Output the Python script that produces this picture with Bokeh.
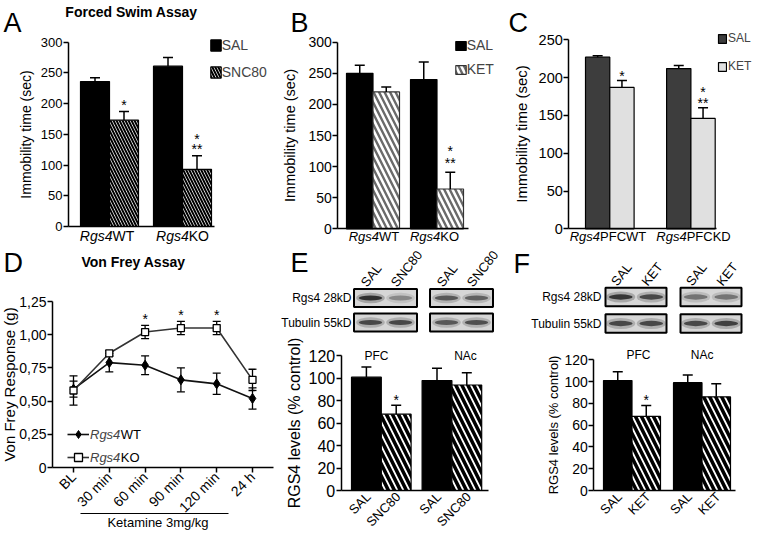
from math import pi
from bokeh.plotting import figure
from bokeh.models import (Range1d, ColumnDataSource, Whisker, TeeHead, Label, LabelSet, Legend,
                          LegendItem, FixedTicker, Arrow)
from bokeh.layouts import row, column
from bokeh.embed import file_html
from bokeh.resources import INLINE
from bokeh.core.properties import value

FONT = "Liberation Sans"

# ---------------- data ----------------
# A  Forced swim assay (SNC80)
A_GENO = ["WT", "KO"]
A_TREAT = ["SAL", "SNC80"]
A_SAL = [236, 261]
A_SAL_TOP = [242, 275]
A_DRUG = [173, 93]
A_DRUG_TOP = [187, 115]
A_STAR_LO = ["*", "**"]
A_STAR_HI = ["", "*"]
A_YTICKS = [0, 50, 100, 150, 200, 250, 300]

# B  Forced swim (ketamine)
B_GENO = ["WT", "KO"]
B_TREAT = ["SAL", "KET"]
B_SAL = [250, 240]
B_SAL_TOP = [263, 268]
B_DRUG = [220, 64]
B_DRUG_TOP = [228, 91]
B_STAR_LO = ["", "**"]
B_STAR_HI = ["", "*"]

# C  PFC knock-down
C_GENO = ["PFCWT", "PFCKD"]
C_TREAT = ["SAL", "KET"]
C_SAL = [227, 212]
C_SAL_TOP = [229, 216]
C_DRUG = [187, 146]
C_DRUG_TOP = [196, 160]
C_STAR_LO = ["*", "**"]
C_STAR_HI = ["", "*"]
C_YTICKS = [0, 50, 100, 150, 200, 250]

# D  Von Frey assay
D_TIMES = ["BL", "30 min", "60 min", "90 min", "120 min", "24 h"]
D_WT = [0.59, 0.79, 0.77, 0.66, 0.63, 0.52]
D_WT_SEM = [0.06, 0.07, 0.07, 0.09, 0.08, 0.08]
D_KO = [0.58, 0.86, 1.02, 1.05, 1.05, 0.66]
D_KO_SEM = [0.11, 0.02, 0.05, 0.05, 0.05, 0.08]
D_STARS = ["", "", "*", "*", "*", ""]
D_YTICKS = [0, 0.25, 0.5, 0.75, 1.0, 1.25]
D_YLABELS = ["0", "0,25", "0,50", "0,75", "1,00", "1,25"]

# E  RGS4 levels after SNC80
E_TISSUE = ["PFC", "NAc"]
E_TREAT = ["SAL", "SNC80"]
E_SAL = [101, 98]
E_SAL_TOP = [110, 109]
E_DRUG = [68, 94]
E_DRUG_TOP = [76, 105]
E_STARS = ["*", ""]
BLOT_ROWS = ["Rgs4 28kD", "Tubulin 55kD"]
E_RGS4_BAND = [0.85, 0.35, 0.6, 0.55]
E_TUB_BAND = [0.7, 0.7, 0.6, 0.65]
EF_YTICKS = [0, 20, 40, 60, 80, 100, 120]

# F  RGS4 levels after ketamine
F_TISSUE = ["PFC", "NAc"]
F_TREAT = ["SAL", "KET"]
F_SAL = [101, 99]
F_SAL_TOP = [109, 106]
F_DRUG = [68, 86]
F_DRUG_TOP = [78, 98]
F_STARS = ["*", ""]
F_RGS4_BAND = [0.8, 0.7, 0.45, 0.45]
F_TUB_BAND = [0.7, 0.7, 0.7, 0.75]

# ---------------- helpers ----------------
_CW = {' ': 278, '(': 333, ')': 333, '*': 389, ',': 278, '%': 889, '/': 278,
       'A': 667, 'B': 667, 'C': 722, 'D': 722, 'E': 667, 'F': 611, 'G': 778, 'K': 667,
       'L': 556, 'N': 722, 'O': 778, 'P': 667, 'R': 722, 'S': 667, 'T': 611, 'W': 944,
       'a': 556, 'b': 556, 'c': 500, 'e': 556, 'g': 556, 'h': 556, 'i': 222, 'k': 500,
       'l': 222, 'm': 833, 'n': 556, 'o': 556, 'r': 333, 's': 500, 't': 278, 'u': 556,
       'v': 500, 'y': 500}


def tw(s, size):
    return sum(_CW.get(ch, 556) for ch in s) * size / 1000.0


def lin_range(px0, px1, da, pa, db, pb):
    """Range whose data value da sits at pixel pa and db at pb, frame spanning px0..px1."""
    s = (pb - pa) / (db - da)
    return Range1d(da + (px0 - pa) / s, da + (px1 - pa) / s)


class Fig:
    def __init__(self, ox, oy, w, h, xr, yr):
        self.ox, self.oy, self.w, self.h = ox, oy, w, h
        p = figure(width=w, height=h, x_range=xr, y_range=yr, output_backend="svg",
                   toolbar_location=None, min_border=0, min_border_left=0, min_border_right=0,
                   min_border_top=0, min_border_bottom=0)
        p.title.visible = False
        p.outline_line_color = None
        p.grid.visible = False
        p.background_fill_color = "white"
        p.border_fill_color = "white"
        self.p = p

    def put(self, rx, by, text, size, align="left", style="normal", angle=0.0, mid=False):
        # by is the text baseline (converted to a middle anchor) unless mid=True
        cy = by if mid else by - 0.26 * size
        self.p.add_layout(Label(x=rx - self.ox, y=self.oy + self.h - cy, x_units="screen",
                                y_units="screen", text=text, text_font=FONT,
                                text_font_size=f"{size}px", text_font_style=style,
                                text_align=align, text_baseline="middle", angle=angle,
                                text_color="black"))

    def pair(self, cx, by, prefix, suffix, size):
        wp, ws = tw(prefix, size), tw(suffix, size)
        x0 = cx - (wp + ws) / 2
        self.put(x0, by, prefix, size, style="italic")
        self.put(x0 + wp, by, suffix, size)

    def legend(self, items, rx, ry_top, gw, gh, pitch, size, standoff, style="normal"):
        n = len(items)
        spacing = round(pitch - gh)
        height = n * gh + (n - 1) * spacing
        leg = Legend(items=[LegendItem(label=l, renderers=r) for l, r in items],
                     location=(rx - self.ox, self.oy + self.h - (ry_top + height)),
                     orientation="vertical", padding=0, margin=0, spacing=spacing,
                     glyph_width=gw, glyph_height=gh, label_height=gh, label_width=5,
                     label_standoff=standoff, label_text_font=FONT,
                     label_text_font_size=f"{size}px", label_text_font_style=style,
                     label_text_baseline="middle", border_line_color=None,
                     background_fill_alpha=0)
        self.p.add_layout(leg)


def axis_style(ax, tsize):
    ax.axis_line_color = "black"
    ax.axis_line_width = 1.5
    ax.major_tick_line_color = "black"
    ax.major_tick_line_width = 1.5
    ax.major_tick_out = 5
    ax.major_tick_in = 0
    ax.minor_tick_line_color = None
    ax.major_label_text_font = FONT
    ax.major_label_text_font_size = f"{tsize}px"
    ax.major_label_text_color = "black"
    ax.major_label_standoff = 1


def y_axis(p, at, top, ticks, label, tsize, lsize, lstand, overrides=None):
    ax = p.yaxis[0]
    ax.fixed_location = at
    ax.bounds = (0, top)
    ax.ticker = FixedTicker(ticks=ticks)
    if overrides:
        ax.major_label_overrides = overrides
    ax.axis_label = label
    ax.axis_label_text_font = FONT
    ax.axis_label_text_font_style = "normal"
    ax.axis_label_text_font_size = f"{lsize}px"
    ax.axis_label_text_color = "black"
    ax.axis_label_standoff = lstand
    axis_style(ax, tsize)


def x_axis(p, start, end, tsize=14, ticks=()):
    ax = p.xaxis[0]
    ax.fixed_location = 0
    ax.bounds = (start, end)
    ax.ticker = FixedTicker(ticks=list(ticks))
    axis_style(ax, tsize)
    return ax


def stars(p, xs, ys, texts, off, size=14):
    src = ColumnDataSource(dict(x=xs, y=ys, t=texts))
    p.add_layout(LabelSet(x="x", y="y", text="t", source=src, y_offset=off, text_align="center",
                          text_baseline="middle", text_font=value(FONT),
                          text_font_size=value(f"{size}px"), text_color="black"))


def bar_panel(ox, oy, w, h, groups, treats, sal, sal_top, drug, drug_top, ymax,
              axis_px, bar0, unit, gap, xend_px, y_zero, y_top, sal_style, drug_style, head=10):
    xr = lin_range(ox, ox + w, 0, bar0, 1, bar0 + unit)
    yr = lin_range(-(oy + h), -oy, 0, -y_zero, ymax, -y_top)
    f = Fig(ox, oy, w, h, xr, yr)
    p = f.p
    step = len(treats) + gap / unit
    xs = [[gi * step + ti + 0.5 for gi in range(len(groups))] for ti in range(len(treats))]
    s1 = ColumnDataSource(dict(x=xs[0], top=sal, err=sal_top))
    s2 = ColumnDataSource(dict(x=xs[1], top=drug, err=drug_top))
    r1 = p.vbar(x="x", top="top", width=1.0, source=s1, **sal_style)
    r2 = p.vbar(x="x", top="top", width=1.0, source=s2, **drug_style)
    for s in (s1, s2):
        p.add_layout(Whisker(base="x", lower="top", upper="err", source=s, line_color="black",
                             line_width=1.5, level="annotation", lower_head=None,
                             upper_head=TeeHead(size=head, line_color="black", line_width=1.5)))
    ax_at = (axis_px - bar0) / unit
    x_axis(p, ax_at, (xend_px - bar0) / unit)
    f.ax_at = ax_at
    f.xs = xs
    return f, r1, r2


def blot_panel(ox, oy, w, h, tissues, lanes, rgs4, tub, lane0, unit, gap, row_px,
               box_w, box_h, lab_size):
    xr = lin_range(ox, ox + w, 0, lane0, 1, lane0 + unit)
    yr = lin_range(-(oy + h), -oy, 0, -row_px[1], 1, -row_px[0])
    f = Fig(ox, oy, w, h, xr, yr)
    p = f.p
    p.axis.visible = False
    step = len(lanes) + gap / unit
    bx = [ti * step + len(lanes) / 2 for ti in range(len(tissues))]
    box = ColumnDataSource(dict(x=bx * 2, y=[1] * len(bx) + [0] * len(bx)))
    p.rect("x", "y", width=box_w / unit, height=box_h / (row_px[1] - row_px[0]), source=box,
           fill_color="#d6d6d6", line_color="black", line_width=2)
    lane_x = [ti * step + li + 0.5 for ti in range(len(tissues)) for li in range(len(lanes))]
    inten = rgs4 + tub
    bands = ColumnDataSource(dict(x=lane_x * 2, y=[1] * len(lane_x) + [0] * len(lane_x),
                                  a=inten, a2=[v * 0.35 for v in inten]))
    p.ellipse("x", "y", width=0.95, height=0.42, source=bands, fill_color="#303030",
              fill_alpha="a2", line_color=None)
    p.ellipse("x", "y", width=0.78, height=0.2, source=bands, fill_color="#1c1c1c",
              fill_alpha="a", line_color=None)
    lab = ColumnDataSource(dict(x=lane_x, y=[1] * len(lane_x),
                                t=[l for t in tissues for l in lanes]))
    p.add_layout(LabelSet(x="x", y="y", text="t", source=lab, angle=0.9, x_offset=-7,
                          y_offset=13, text_align="left", text_baseline="middle",
                          text_font=value(FONT), text_font_size=value(f"{lab_size}px"),
                          text_color="black"))
    return f


def xlabels(f, tissues, treats, size):
    src = ColumnDataSource(dict(x=[x for gi in range(len(tissues)) for x in (f.xs[0][gi], f.xs[1][gi])],
                                y=[0] * (2 * len(tissues)),
                                t=[tr for t in tissues for tr in treats]))
    f.p.add_layout(LabelSet(x="x", y="y", text="t", source=src, angle=pi / 4, x_offset=2,
                            y_offset=-4, text_align="right", text_baseline="middle",
                            text_font=value(FONT), text_font_size=value(f"{size}px"),
                            text_color="black"))


BLACK = dict(fill_color="black", line_color="black", line_width=1.2)


def hatch(color, weight, scale, line="black"):
    return dict(fill_color="white", line_color=line, line_width=1.2,
                hatch_pattern="left_diagonal_line", hatch_color=color,
                hatch_weight=weight, hatch_scale=scale)


TOP_H = 246
BOT_Y = 246
BLOT_H = 91

# ---------------- panel A ----------------
fA, rA1, rA2 = bar_panel(0, 0, 280, TOP_H, A_GENO, A_TREAT, A_SAL, A_SAL_TOP, A_DRUG, A_DRUG_TOP,
                         300, 68, 80, 29, 15, 214, 226, 41.7, BLACK, hatch("black", 2, 6))
y_axis(fA.p, fA.ax_at, 300, A_YTICKS, "Immobility time (sec)", 13, 14, 4)
stars(fA.p, fA.xs[1], A_DRUG_TOP, A_STAR_LO, 7)
stars(fA.p, fA.xs[1], A_DRUG_TOP, A_STAR_HI, 17)
fA.legend([(A_TREAT[0], [rA1]), (A_TREAT[1], [rA2])], 208.7, 40.6, 13, 14, 25, 14, 0)
fA.put(3, 30, "A", 27)
fA.put(131, 15, "Forced Swim Assay", 14, align="center", style="bold")
fA.pair(106.5, 239, "Rgs4", A_GENO[0], 14)
fA.pair(182, 239, "Rgs4", A_GENO[1], 14)

# ---------------- panel B ----------------
fB, rB1, rB2 = bar_panel(280, 0, 225, TOP_H, B_GENO, B_TREAT, B_SAL, B_SAL_TOP, B_DRUG, B_DRUG_TOP,
                         300, 337.3, 346, 26.5, 11, 468, 228.3, 41.7, BLACK,
                         hatch("#6a6a6a", 2.4, 11, "#333333"))
y_axis(fB.p, fB.ax_at, 300, A_YTICKS, "Immobility time (sec)", 14, 14.5, 7)
stars(fB.p, fB.xs[1], B_DRUG_TOP, B_STAR_LO, 9)
stars(fB.p, fB.xs[1], B_DRUG_TOP, B_STAR_HI, 21)
fB.legend([(B_TREAT[0], [rB1]), (B_TREAT[1], [rB2])], 453.7, 47.2, 13, 11, 19, 14, 0)
fB.put(290, 30, "B", 27)
fB.pair(373.5, 239, "Rgs4", B_GENO[0], 13)
fB.pair(434, 239, "Rgs4", B_GENO[1], 13)

# ---------------- panel C ----------------
fC, rC1, rC2 = bar_panel(505, 0, 247, TOP_H, C_GENO, C_TREAT, C_SAL, C_SAL_TOP, C_DRUG, C_DRUG_TOP,
                         250, 568.3, 585, 24.3, 32.5, 716, 228.3, 39.3,
                         dict(fill_color="#3d3d3d", line_color="black", line_width=1.2),
                         dict(fill_color="#e0e0e0", line_color="black", line_width=1.2))
y_axis(fC.p, fC.ax_at, 250, C_YTICKS, "Immobility time (sec)", 14.5, 15, 5)
stars(fC.p, fC.xs[1], C_DRUG_TOP, C_STAR_LO, 5)
stars(fC.p, fC.xs[1], C_DRUG_TOP, C_STAR_HI, 16)
fC.legend([(C_TREAT[0], [rC1]), (C_TREAT[1], [rC2])], 717, 37.2, 10, 11, 25, 12, 1)
fC.put(508, 30, "C", 27)
fC.pair(607.5, 239, "Rgs4", C_GENO[0], 13)
fC.pair(693, 239, "Rgs4", C_GENO[1], 13)

# ---------------- panel D ----------------
D_OX, D_OY, D_W, D_H = 0, BOT_Y, 278, 531 - BOT_Y
fD = Fig(D_OX, D_OY, D_W, D_H, lin_range(D_OX, D_OX + D_W, 0, 73, 1, 108.8),
         lin_range(-(D_OY + D_H), -D_OY, 0, -467, 1.25, -301))
pD = fD.p
d_x = list(range(len(D_TIMES)))
d_axis_at = (52 - 73) / 35.8
y_axis(pD, d_axis_at, 1.25, D_YTICKS, None, 14, 15, 0, overrides=dict(zip(D_YTICKS, D_YLABELS)))
axD = x_axis(pD, d_axis_at, (273 - 73) / 35.8, 14, d_x)
axD.major_label_overrides = dict(zip(d_x, D_TIMES))
axD.major_label_orientation = pi / 4
axD.major_label_standoff = 2
sw = ColumnDataSource(dict(x=d_x, y=D_WT, lo=[m - e for m, e in zip(D_WT, D_WT_SEM)],
                           hi=[m + e for m, e in zip(D_WT, D_WT_SEM)]))
sk = ColumnDataSource(dict(x=d_x, y=D_KO, lo=[m - e for m, e in zip(D_KO, D_KO_SEM)],
                           hi=[m + e for m, e in zip(D_KO, D_KO_SEM)]))
for s in (sw, sk):
    pD.add_layout(Whisker(base="x", lower="lo", upper="hi", source=s, line_color="black",
                          line_width=1.3, level="underlay",
                          upper_head=TeeHead(size=8, line_color="black", line_width=1.3),
                          lower_head=TeeHead(size=8, line_color="black", line_width=1.3)))
lw = pD.line("x", "y", source=sw, line_color="#111111", line_width=1.6)
mw = pD.scatter("x", "y", source=sw, marker="diamond", size=10, fill_color="black", line_color="black")
lk = pD.line("x", "y", source=sk, line_color="#333333", line_width=1.6)
mk = pD.scatter("x", "y", source=sk, marker="square", size=7, fill_color="white",
                line_color="black", line_width=1.3)
stars(pD, d_x, [m + e for m, e in zip(D_KO, D_KO_SEM)], D_STARS, 6)
fD.legend([("Rgs4", [lw, mw]), ("Rgs4", [lk, mk])], 67, 424, 22, 20, 23, 13, 1, style="italic")
fD.put(90 + tw("Rgs4", 13), 434, "WT", 13, mid=True)
fD.put(90 + tw("Rgs4", 13), 457, "KO", 13, mid=True)
fD.put(3, 270, "D", 27)
fD.put(133, 265, "Von Frey Assay", 14, align="center", style="bold")
fD.put(9, 384, "Von Frey Response (g)", 15, align="center", angle=pi / 2, mid=True)
pD.add_layout(Arrow(x_start=80 - D_OX, y_start=D_OY + D_H - 513, x_end=228 - D_OX,
                    y_end=D_OY + D_H - 513, start_units="screen", end_units="screen",
                    start=None, end=None, line_color="black", line_width=1.2))
fD.put(157.5, 522, "Ketamine 3mg/kg", 13, align="center", mid=True)

# ---------------- panel E ----------------
fEb = blot_panel(278, BOT_Y, 230, BLOT_H, E_TISSUE, E_TREAT, E_RGS4_BAND, E_TUB_BAND,
                 355, 30, 16, (297.5, 322), 63, 18, 13)
fEb.put(290, 270, "E", 27)
fEb.put(351, 297.5, BLOT_ROWS[0], 12, align="right", mid=True)
fEb.put(351, 322, BLOT_ROWS[1], 12, align="right", mid=True)

BAR_Y = BOT_Y + BLOT_H
BAR_H = 531 - BAR_Y
fE, rE1, rE2 = bar_panel(278, BAR_Y, 230, BAR_H, E_TISSUE, E_TREAT, E_SAL, E_SAL_TOP, E_DRUG,
                         E_DRUG_TOP, 120, 340.7, 351, 29.8, 11, 488, 490, 355.3, BLACK,
                         hatch("black", 3.5, 12))
y_axis(fE.p, fE.ax_at, 120, EF_YTICKS, "RGS4 levels (% control)", 16, 16, 3)
stars(fE.p, fE.xs[1], E_DRUG_TOP, E_STARS, 5)
fE.put(376, 359, E_TISSUE[0], 12, align="center")
fE.put(465, 359, E_TISSUE[1], 12, align="center")
xlabels(fE, E_TISSUE, E_TREAT, 13)

# ---------------- panel F ----------------
fFb = blot_panel(508, BOT_Y, 244, BLOT_H, F_TISSUE, F_TREAT, F_RGS4_BAND, F_TUB_BAND,
                 605, 30.5, 14, (296.5, 323), 61, 18.4, 13)
fFb.put(513, 271, "F", 27)
fFb.put(601, 296.5, BLOT_ROWS[0], 12, align="right", mid=True)
fFb.put(601, 323, BLOT_ROWS[1], 12, align="right", mid=True)

fF, rF1, rF2 = bar_panel(508, BAR_Y, 244, BAR_H, F_TISSUE, F_TREAT, F_SAL, F_SAL_TOP, F_DRUG,
                         F_DRUG_TOP, 120, 593.3, 603, 28.5, 13, 735, 490, 359.3, BLACK,
                         hatch("black", 3.5, 12))
y_axis(fF.p, fF.ax_at, 120, EF_YTICKS, "RGS4 levels (% control)", 14, 13, 0)
stars(fF.p, fF.xs[1], F_DRUG_TOP, F_STARS, 6)
fF.put(638, 358, F_TISSUE[0], 12, align="center")
fF.put(701.7, 358, F_TISSUE[1], 12, align="center")
xlabels(fF, F_TISSUE, F_TREAT, 13)

layout = column(row(fA.p, fB.p, fC.p),
                row(fD.p, column(fEb.p, fE.p), column(fFb.p, fF.p)))
open("out.html", "w").write(file_html(layout, INLINE))
